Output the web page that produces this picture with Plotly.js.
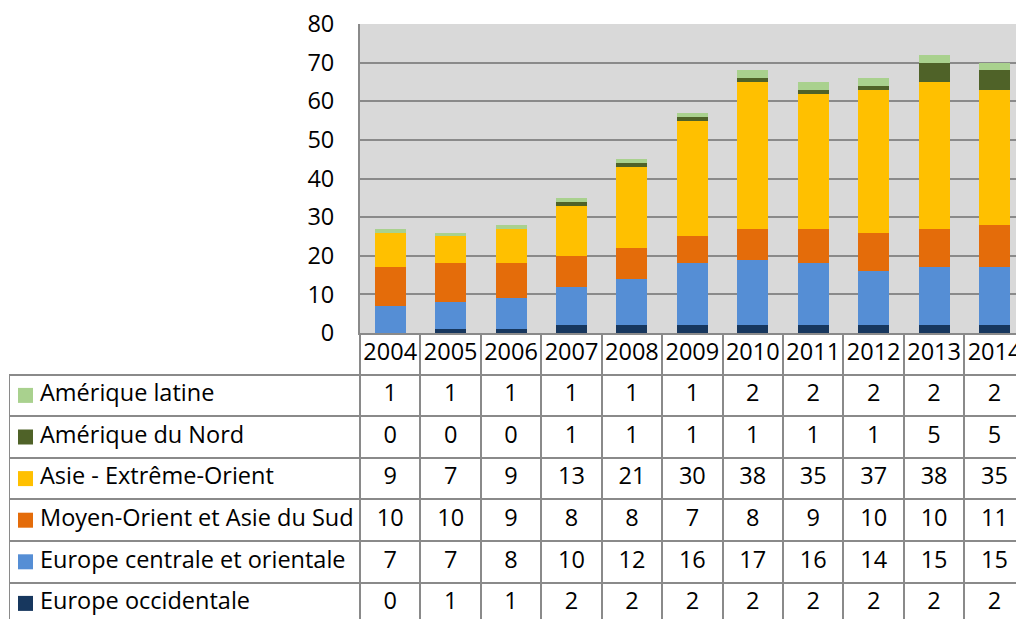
<!DOCTYPE html>
<html>
<head>
<meta charset="utf-8">
<script src="https://cdn.plot.ly/plotly-3.0.1.min.js"></script>
<style>html,body{margin:0;padding:0;background:#fff;}#chart{width:1016px;height:619px;}</style>
</head>
<body>
<div id="chart"></div>
<script>
// ---- data ----
const years = [2004, 2005, 2006, 2007, 2008, 2009, 2010, 2011, 2012, 2013, 2014];
const ameriqueLatine = [1, 1, 1, 1, 1, 1, 2, 2, 2, 2, 2];
const ameriqueNord = [0, 0, 0, 1, 1, 1, 1, 1, 1, 5, 5];
const asieExtremeOrient = [9, 7, 9, 13, 21, 30, 38, 35, 37, 38, 35];
const moyenOrientAsieSud = [10, 10, 9, 8, 8, 7, 8, 9, 10, 10, 11];
const europeCentraleOrientale = [7, 7, 8, 10, 12, 16, 17, 16, 14, 15, 15];
const europeOccidentale = [0, 1, 1, 2, 2, 2, 2, 2, 2, 2, 2];

// table order (top to bottom), names and colours
const seriesNames = ["Amérique latine", "Amérique du Nord", "Asie - Extrême-Orient",
  "Moyen-Orient et Asie du Sud", "Europe centrale et orientale", "Europe occidentale"];
const seriesValues = [ameriqueLatine, ameriqueNord, asieExtremeOrient,
  moyenOrientAsieSud, europeCentraleOrientale, europeOccidentale];
const seriesColors = ["#a9d18e", "#4f6228", "#ffc000", "#e46c0a", "#558ed5", "#17375e"];

// ---- geometry ----
const W = 1016, H = 619;
const plotL = 360, plotT = 24, plotB = 333;
const colW = 60.43;
const tableL = 9;
const rowH = 41.6;
const font = "'Open Sans', 'Noto Sans', sans-serif";
const fs = 23.5;
const lineCol = "#8a8a8a";

const xMin = years[0] - 0.5;
const xMax = xMin + (W - plotL) / colW;
const x2Min = xMin - (plotL - tableL) / colW;
const yTabBottom = -0.5 + (H - plotB) / rowH;

function pxToX2(px) { return x2Min + (px - tableL) / colW; }

const traces = [];
// bars: bottom to top stacking
for (let i = seriesNames.length - 1; i >= 0; i--) {
  traces.push({
    type: "bar", x: years, y: seriesValues[i], name: seriesNames[i],
    marker: { color: seriesColors[i], line: { width: 0 } },
    width: 0.513, xaxis: "x", yaxis: "y", showlegend: false, hoverinfo: "skip"
  });
}
// year row
traces.push({
  type: "scatter", mode: "text", x: years, y: years.map(() => 0),
  text: years.map(String), textposition: "middle center",
  textfont: { family: font, size: fs, color: "#000" },
  xaxis: "x2", yaxis: "y2", showlegend: false, hoverinfo: "skip"
});
// value rows
seriesNames.forEach((nm, i) => {
  traces.push({
    type: "scatter", mode: "text", x: years, y: years.map(() => i + 1),
    text: seriesValues[i].map(String), textposition: "middle center",
    textfont: { family: font, size: fs, color: "#000" },
    xaxis: "x2", yaxis: "y2", showlegend: false, hoverinfo: "skip"
  });
});
// legend keys
traces.push({
  type: "scatter", mode: "markers",
  x: seriesNames.map(() => pxToX2(25.5)), y: seriesNames.map((n, i) => i + 1),
  marker: { symbol: "square", size: 15, color: seriesColors, line: { width: 0 } },
  cliponaxis: false, xaxis: "x2", yaxis: "y2", showlegend: false, hoverinfo: "skip"
});
// legend labels
traces.push({
  type: "scatter", mode: "text",
  x: seriesNames.map(() => pxToX2(40)), y: seriesNames.map((n, i) => i + 1),
  text: seriesNames, textposition: "middle right",
  textfont: { family: font, size: fs, color: "#000" },
  cliponaxis: false, xaxis: "x2", yaxis: "y2", showlegend: false, hoverinfo: "skip"
});

const layout = {
  width: W, height: H,
  margin: { l: 0, r: 0, t: 0, b: 0, pad: 0 },
  paper_bgcolor: "#ffffff",
  plot_bgcolor: "#d9d9d9",
  barmode: "stack",
  font: { family: font, size: fs, color: "#000" },
  showlegend: false,
  xaxis: {
    domain: [plotL / W, 1], anchor: "y", range: [xMin, xMax],
    showgrid: false, showticklabels: false, zeroline: false, ticks: "",
    showline: true, linecolor: lineCol, linewidth: 2
  },
  yaxis: {
    domain: [(H - plotB) / H, (H - plotT) / H], anchor: "x", range: [0, 80], dtick: 10,
    showgrid: true, gridcolor: lineCol, gridwidth: 2, zeroline: false,
    showline: true, linecolor: lineCol, linewidth: 2,
    ticks: "outside", ticklen: 19, tickcolor: "rgba(0,0,0,0)",
    tickfont: { family: font, size: fs, color: "#000" }
  },
  xaxis2: {
    domain: [tableL / W, 1], anchor: "y2", range: [x2Min, xMax],
    tickvals: years.map(y => y - 0.5), showticklabels: false, ticks: "",
    showgrid: true, gridcolor: lineCol, gridwidth: 2, zeroline: false, showline: false
  },
  yaxis2: {
    domain: [0, (H - plotB) / H], anchor: "x2", range: [yTabBottom, -0.5],
    tickvals: seriesNames.map((n, i) => i + 0.5), showticklabels: false, ticks: "",
    showgrid: true, gridcolor: lineCol, gridwidth: 2, zeroline: false, showline: false
  },
  shapes: [
    {
      type: "rect", xref: "x2 domain", yref: "y2 domain", x0: 0, x1: 1, y0: 0, y1: 1,
      fillcolor: "#ffffff", line: { width: 0 }, layer: "below"
    },
    {
      type: "line", xref: "x2", yref: "y2", x0: x2Min, x1: x2Min, y0: 0.5, y1: yTabBottom,
      line: { color: lineCol, width: 2 }
    }
  ]
};

Plotly.newPlot("chart", traces, layout, { staticPlot: true, displayModeBar: false });
</script>
</body>
</html>
